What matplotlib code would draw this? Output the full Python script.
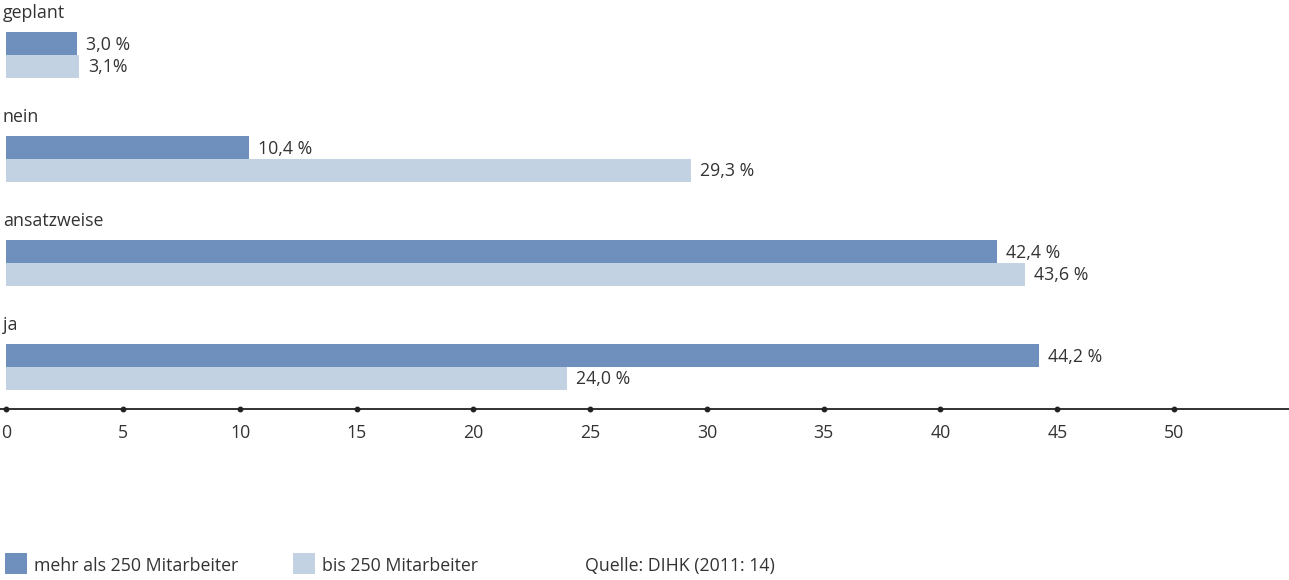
import matplotlib
matplotlib.use("Agg")
import matplotlib.pyplot as plt
from matplotlib.patches import Rectangle

plt.rcParams['font.family'] = ['Open Sans', 'DejaVu Sans']

categories = ["geplant", "nein", "ansatzweise", "ja"]
series_names = ["mehr als 250 Mitarbeiter", "bis 250 Mitarbeiter"]
values_large = [3.0, 10.4, 42.4, 44.2]
values_small = [3.1, 29.3, 43.6, 24.0]
labels_large = ["3,0 %", "10,4 %", "42,4 %", "44,2 %"]
labels_small = ["3,1%", "29,3 %", "43,6 %", "24,0 %"]
xticks = [0, 5, 10, 15, 20, 25, 30, 35, 40, 45, 50]
source = "Quelle: DIHK (2011: 14)"

c_dark = "#6f8fbc"
c_light = "#c2d2e2"
txt = "#333333"

W, H = 1289, 580
fig = plt.figure(figsize=(W / 100, H / 100), dpi=100)
ax_bottom_px = 409
ax = fig.add_axes([0, 1 - ax_bottom_px / H, 1, ax_bottom_px / H])

scale = 23.35
x0px = 6.5
ax.set_xlim(-x0px / scale, (W - x0px) / scale)
ax.set_ylim(ax_bottom_px, 0)

group_step = 104
bar_h = 23
first_top = 32
fs = 12.8
for i, cat in enumerate(categories):
    top = first_top + group_step * i
    yd = top + bar_h / 2
    yl = top + bar_h * 1.5
    ax.barh(yd, values_large[i], height=bar_h, color=c_dark, left=0)
    ax.barh(yl, values_small[i], height=bar_h, color=c_light, left=0)
    ax.text(values_large[i] + 9 / scale, yd + 1, labels_large[i], va="center", ha="left", fontsize=fs, color=txt)
    ax.text(values_small[i] + 9 / scale, yl + 1, labels_small[i], va="center", ha="left", fontsize=fs, color=txt)
    ax.text(-x0px / scale + 3 / scale, top - 19, cat, va="center", ha="left", fontsize=fs, color=txt)

for s in ["top", "right", "left"]:
    ax.spines[s].set_visible(False)
ax.spines["bottom"].set_color("#222222")
ax.spines["bottom"].set_linewidth(1.3)
ax.set_yticks([])
ax.set_xticks(xticks)
ax.set_xticklabels([str(t) for t in xticks], fontsize=fs, color=txt)
ax.tick_params(axis="x", length=0, pad=11)
ax.plot(xticks, [ax_bottom_px] * len(xticks), "o", color="#222222", ms=3.2, clip_on=False, zorder=5)

# legend
def fx(px):
    return px / W
def fy(py):
    return 1 - py / H

for x, c, name in [(5, c_dark, series_names[0]), (293, c_light, series_names[1])]:
    fig.patches.append(Rectangle((fx(x), fy(574)), 22 / W, 21 / H, transform=fig.transFigure,
                                 facecolor=c, edgecolor="none"))
    fig.text(fx(x + 29), fy(566), name, fontsize=fs, color=txt, va="center", ha="left")
fig.text(fx(585), fy(566), source, fontsize=fs, color=txt, va="center", ha="left")

fig.savefig("out.png", dpi=100)
